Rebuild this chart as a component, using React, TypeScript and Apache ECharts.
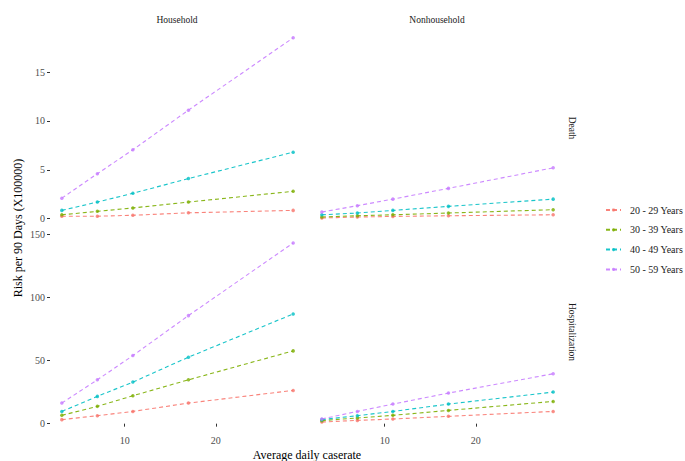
import React, { useEffect, useRef } from "react";
import * as echarts from "echarts";

const caseRates = [3.1, 7, 10.9, 17, 28.5];
const ageGroups = ["20 - 29 Years", "30 - 39 Years", "40 - 49 Years", "50 - 59 Years"];
const colors = ["#F8766D", "#7CAE00", "#00BFC4", "#C77CFF"];

// each: [20-29, 30-39, 40-49, 50-59]
const deathHousehold = [
  [0.25, 0.25, 0.35, 0.6, 0.85],
  [0.4, 0.75, 1.1, 1.7, 2.8],
  [0.85, 1.7, 2.6, 4.1, 6.8],
  [2.1, 4.6, 7.05, 11.1, 18.5],
];
const deathNonhousehold = [
  [0.07, 0.17, 0.23, 0.3, 0.4],
  [0.17, 0.3, 0.4, 0.58, 0.92],
  [0.4, 0.58, 0.85, 1.26, 2.0],
  [0.68, 1.33, 2.0, 3.1, 5.2],
];
const hospHousehold = [
  [3.2, 6.3, 9.7, 16.3, 26.3],
  [6.6, 13.7, 22.1, 34.7, 57.6],
  [9.7, 21.6, 32.9, 52.6, 86.8],
  [16.3, 34.7, 53.9, 85.5, 143],
];
const hospNonhousehold = [
  [1.3, 2.6, 3.7, 5.8, 9.7],
  [2.4, 4.5, 6.6, 10.5, 17.6],
  [3.2, 6.3, 9.7, 15.5, 25],
  [3.7, 9.7, 15.5, 24.2, 39.5],
];

const xTicks = [10, 20];
const deathTicks = [0, 5, 10, 15];
const hospTicks = [0, 50, 100, 150];
const colLabels = ["Household", "Nonhousehold"];
const rowLabels = ["Death", "Hospitalization"];

const FONT = "'Liberation Serif', serif";

export default function App() {
  const ref = useRef<HTMLDivElement>(null);
  useEffect(() => {
    if (!ref.current) return;
    const chart = echarts.init(ref.current, undefined, { renderer: "svg" });

    const grids = [
      { left: 50, top: 29, width: 255, height: 198 },
      { left: 310, top: 29, width: 255, height: 198 },
      { left: 50, top: 234, width: 255, height: 197 },
      { left: 310, top: 234, width: 255, height: 197 },
    ];
    const panels = [deathHousehold, deathNonhousehold, hospHousehold, hospNonhousehold];
    const yRanges = [
      [-0.85, 19.4],
      [-0.85, 19.4],
      [-5.8, 150.1],
      [-5.8, 150.1],
    ];
    const yTickSets = [deathTicks, deathTicks, hospTicks, hospTicks];

    const xAxis = grids.map((_, i) => {
      const bottom = i >= 2;
      return {
        type: "value",
        gridIndex: i,
        min: 1.8,
        max: 29.8,
        axisLine: { show: false },
        splitLine: { show: false },
        axisTick: {
          show: bottom,
          length: 3,
          lineStyle: { color: "#333333", width: 1 },
          customValues: xTicks,
        },
        axisLabel: {
          show: bottom,
          customValues: xTicks,
          color: "#4d4d4d",
          fontFamily: FONT,
          fontSize: 10,
          margin: 4,
        },
      };
    });
    const yAxis = grids.map((_, i) => {
      const left = i % 2 === 0;
      return {
        type: "value",
        gridIndex: i,
        min: yRanges[i][0],
        max: yRanges[i][1],
        axisLine: { show: false },
        splitLine: { show: false },
        axisTick: {
          show: left,
          length: 3,
          lineStyle: { color: "#333333", width: 1 },
          customValues: yTickSets[i],
        },
        axisLabel: {
          show: left,
          customValues: yTickSets[i],
          color: "#4d4d4d",
          fontFamily: FONT,
          fontSize: 10,
          margin: 5,
        },
      };
    });

    const series: any[] = [];
    panels.forEach((panel, pi) => {
      panel.forEach((vals, gi) => {
        series.push({
          type: "line",
          name: ageGroups[gi],
          xAxisIndex: pi,
          yAxisIndex: pi,
          data: vals.map((v, k) => [caseRates[k], v]),
          symbol: "circle",
          symbolSize: 3.5,
          showSymbol: true,
          color: colors[gi],
          lineStyle: { type: [4, 3], width: 1.1, color: colors[gi], opacity: 0.9 },
          itemStyle: { color: colors[gi], opacity: 0.8 },
        });
      });
    });

    const option: any = {
      animation: false,
      backgroundColor: "#ffffff",
      textStyle: { fontFamily: FONT },
      grid: grids,
      xAxis,
      yAxis,
      series,
      legend: {
        orient: "vertical",
        left: 600,
        top: 200,
        itemWidth: 15,
        itemHeight: 4,
        itemGap: 9.8,
        data: ageGroups,
        textStyle: { fontFamily: FONT, fontSize: 10, color: "#1a1a1a", padding: [0, 0, 0, 4] },
        selectedMode: false,
      },
      graphic: [
        {
          type: "text",
          x: 177,
          y: 20,
          style: { text: colLabels[0], fontFamily: FONT, fontSize: 9.5, fill: "#1a1a1a", align: "center", verticalAlign: "middle" },
        },
        {
          type: "text",
          x: 437,
          y: 20,
          style: { text: colLabels[1], fontFamily: FONT, fontSize: 9.5, fill: "#1a1a1a", align: "center", verticalAlign: "middle" },
        },
        {
          type: "text",
          x: 572,
          y: 128,
          rotation: -Math.PI / 2,
          style: { text: rowLabels[0], fontFamily: FONT, fontSize: 9.5, fill: "#1a1a1a", align: "center", verticalAlign: "middle" },
        },
        {
          type: "text",
          x: 572,
          y: 332,
          rotation: -Math.PI / 2,
          style: { text: rowLabels[1], fontFamily: FONT, fontSize: 9.5, fill: "#1a1a1a", align: "center", verticalAlign: "middle" },
        },
        {
          type: "text",
          x: 18,
          y: 228,
          rotation: Math.PI / 2,
          style: { text: "Risk per 90 Days (X100000)", fontFamily: FONT, fontSize: 12, fill: "#000000", align: "center", verticalAlign: "middle" },
        },
        {
          type: "text",
          x: 307,
          y: 455,
          style: { text: "Average daily caserate", fontFamily: FONT, fontSize: 12, fill: "#000000", align: "center", verticalAlign: "middle" },
        },
      ],
    };
    chart.setOption(option);
    return () => chart.dispose();
  }, []);
  return <div ref={ref} style={{ position: "fixed", left: 0, top: 0, width: 685, height: 461 }} />;
}
